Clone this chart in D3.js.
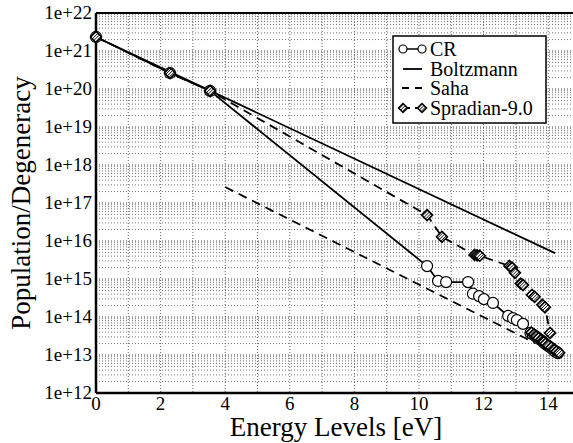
<!DOCTYPE html>
<html><head><meta charset="utf-8">
<script src="https://cdn.jsdelivr.net/npm/d3@7"></script>
<style>body{margin:0;background:#fff}svg{display:block}text{font-family:"Liberation Serif","DejaVu Serif",serif}</style>
</head><body>
<script>
// ---- data (energy eV, population/degeneracy) ----
const crData = [
  [0, 2.34e21], [2.29, 2.63e20], [3.53, 8.9e19], [10.25, 2.19e15], [10.59, 8.9e14],
  [10.84, 8.3e14], [11.52, 8.3e14], [11.67, 4.1e14], [11.86, 3.55e14], [12.01, 2.95e14],
  [12.29, 2.34e14], [12.76, 1.07e14], [12.91, 9.3e13], [13.03, 8.3e13], [13.22, 6.6e13],
  [13.45, 3.8e13], [13.52, 3.47e13], [13.6, 3.16e13], [13.66, 2.88e13], [13.72, 2.63e13],
  [13.8, 2.4e13], [13.86, 2.14e13], [13.93, 1.9e13], [14.0, 1.74e13], [14.08, 1.55e13],
  [14.15, 1.38e13], [14.22, 1.23e13], [14.3, 1.12e13]
];
const boltzmannData = [[0, 2.34e21], [14.21, 4.8e15]];
const sahaData = [[4.0, 2.63e17], [13.6, 2.05e13]];
const spradianData = [
  [0, 2.34e21], [2.29, 2.63e20], [3.53, 8.9e19], [10.25, 4.8e16], [10.71, 1.29e16],
  [11.72, 4.3e15], [11.8, 4.2e15], [11.88, 4.1e15], [12.8, 2.2e15], [12.88, 2.0e15],
  [12.97, 1.45e15], [13.15, 7.6e14], [13.22, 6.9e14], [13.5, 3.8e14], [13.58, 3.4e14],
  [13.82, 2.1e14], [13.9, 1.8e14], [14.06, 3.8e13],
  [13.48, 3.9e13], [13.56, 3.5e13], [13.63, 3.15e13], [13.7, 2.8e13], [13.78, 2.5e13],
  [13.85, 2.25e13], [13.92, 2.0e13], [14.0, 1.78e13], [14.1, 1.58e13], [14.18, 1.38e13],
  [14.26, 1.25e13], [14.34, 1.15e13]
];
const xTicks = [0, 2, 4, 6, 8, 10, 12, 14];
const yTickLabels = ["1e+12","1e+13","1e+14","1e+15","1e+16","1e+17","1e+18","1e+19","1e+20","1e+21","1e+22"];
const legendLabels = ["CR", "Boltzmann", "Saha", "Spradian-9.0"];

const W = 573, H = 443;
const padL = 96, padT = 13, padB = 393;
const FONT = "Liberation Serif, DejaVu Serif, serif";
const x = d3.scaleLinear().domain([0, 15]).range([padL, padL + 15 * 32.3]);
const y = d3.scaleLog().domain([1e12, 1e22]).range([padB, padT]);

const svg = d3.select("body").append("svg").attr("width", W).attr("height", H);

const defs = svg.append("defs");
const pat = defs.append("pattern").attr("id", "hatch").attr("patternUnits", "userSpaceOnUse")
  .attr("width", 2.2).attr("height", 2.2).attr("patternTransform", "rotate(45)");
pat.append("rect").attr("width", 2.2).attr("height", 2.2).attr("fill", "#fff");
pat.append("line").attr("x1", 0).attr("y1", 0).attr("x2", 0).attr("y2", 2.2)
  .attr("stroke", "#000").attr("stroke-width", 1.4);

// grid
const g = svg.append("g");
const xr = x.range();
d3.range(1, 16).forEach(v => {
  g.append("line").attr("x1", x(v)).attr("x2", x(v)).attr("y1", padT).attr("y2", padB)
    .attr("stroke", "#666").attr("stroke-width", 1).attr("stroke-dasharray", "1,2");
});
for (let e = 12; e < 22; e++) {
  for (let m = 1; m <= 9; m++) {
    const v = m * Math.pow(10, e);
    if (v === 1e12) continue;
    g.append("line").attr("x1", padL).attr("x2", xr[1]).attr("y1", y(v)).attr("y2", y(v))
      .attr("stroke", m === 1 ? "#444" : "#777").attr("stroke-width", 1).attr("stroke-dasharray", "1,2");
  }
}

// axes frame
svg.append("line").attr("x1", padL).attr("x2", xr[1]).attr("y1", padB).attr("y2", padB)
  .attr("stroke", "#000").attr("stroke-width", 2.5);
svg.append("line").attr("x1", padL).attr("x2", xr[1]).attr("y1", padT).attr("y2", padT)
  .attr("stroke", "#000").attr("stroke-width", 2);
svg.append("line").attr("x1", padL).attr("x2", padL).attr("y1", padT).attr("y2", padB)
  .attr("stroke", "#000").attr("stroke-width", 2.5);

// tick labels
svg.append("g").selectAll("text").data(xTicks).join("text")
  .attr("x", d => x(d)).attr("y", 410).attr("text-anchor", "middle")
  .attr("font-family", FONT).attr("font-size", 19).text(d => d);
svg.append("g").selectAll("text").data(yTickLabels).join("text")
  .attr("x", 92).attr("y", (d, i) => y(Math.pow(10, 12 + i)) + 6).attr("text-anchor", "end")
  .attr("font-family", FONT).attr("font-size", 19).text(d => d);

// axis titles
svg.append("text").attr("x", 336).attr("y", 436).attr("text-anchor", "middle")
  .attr("font-family", FONT).attr("font-size", 27).text("Energy Levels [eV]");
svg.append("text").attr("transform", `translate(30,${(padT + padB) / 2}) rotate(-90)`)
  .attr("text-anchor", "middle").attr("font-family", FONT).attr("font-size", 27)
  .text("Population/Degeneracy");

const line = d3.line().x(d => x(d[0])).y(d => y(d[1]));

// series lines
svg.append("path").datum(crData).attr("d", line).attr("fill", "none")
  .attr("stroke", "#000").attr("stroke-width", 1.8);
svg.append("path").datum(boltzmannData).attr("d", line).attr("fill", "none")
  .attr("stroke", "#000").attr("stroke-width", 1.8);
svg.append("path").datum(sahaData).attr("d", line).attr("fill", "none")
  .attr("stroke", "#000").attr("stroke-width", 1.8).attr("stroke-dasharray", "9,6");
svg.append("path").datum(spradianData).attr("d", line).attr("fill", "none")
  .attr("stroke", "#000").attr("stroke-width", 1.8).attr("stroke-dasharray", "9,6");

// markers
svg.append("g").selectAll("circle").data(crData).join("circle")
  .attr("cx", d => x(d[0])).attr("cy", d => y(d[1])).attr("r", 5.5)
  .attr("fill", "#fff").attr("stroke", "#000").attr("stroke-width", 1.2);
const diamond = (cx, cy, r) => `M${cx},${cy - r}L${cx + r},${cy}L${cx},${cy + r}L${cx - r},${cy}Z`;
svg.append("g").selectAll("path").data(spradianData).join("path")
  .attr("d", d => diamond(x(d[0]), y(d[1]), 5.5))
  .attr("fill", "url(#hatch)").attr("stroke", "#000").attr("stroke-width", 1.6);

// legend
const lg = svg.append("g");
lg.append("rect").attr("x", 393).attr("y", 36).attr("width", 153).attr("height", 87)
  .attr("fill", "#fff").attr("stroke", "#000").attr("stroke-width", 1.5);
const ly = [49, 69, 88, 108];
legendLabels.forEach((t, i) => {
  lg.append("text").attr("x", 430).attr("y", ly[i] + 7)
    .attr("font-family", FONT).attr("font-size", 20).text(t);
});
lg.append("line").attr("x1", 403).attr("x2", 422).attr("y1", ly[0]).attr("y2", ly[0])
  .attr("stroke", "#000").attr("stroke-width", 1.5);
[403, 422].forEach(cx => lg.append("circle").attr("cx", cx).attr("cy", ly[0]).attr("r", 4)
  .attr("fill", "#fff").attr("stroke", "#000").attr("stroke-width", 1.2));
lg.append("line").attr("x1", 403).attr("x2", 422).attr("y1", ly[1]).attr("y2", ly[1])
  .attr("stroke", "#000").attr("stroke-width", 1.8);
lg.append("line").attr("x1", 402).attr("x2", 424).attr("y1", ly[2]).attr("y2", ly[2])
  .attr("stroke", "#000").attr("stroke-width", 1.8).attr("stroke-dasharray", "7,6");
lg.append("line").attr("x1", 403).attr("x2", 422).attr("y1", ly[3]).attr("y2", ly[3])
  .attr("stroke", "#000").attr("stroke-width", 1.8).attr("stroke-dasharray", "7,5");
[403, 422].forEach(cx => lg.append("path").attr("d", diamond(cx, ly[3], 4.5))
  .attr("fill", "url(#hatch)").attr("stroke", "#000").attr("stroke-width", 1.5));
</script>
</body></html>
